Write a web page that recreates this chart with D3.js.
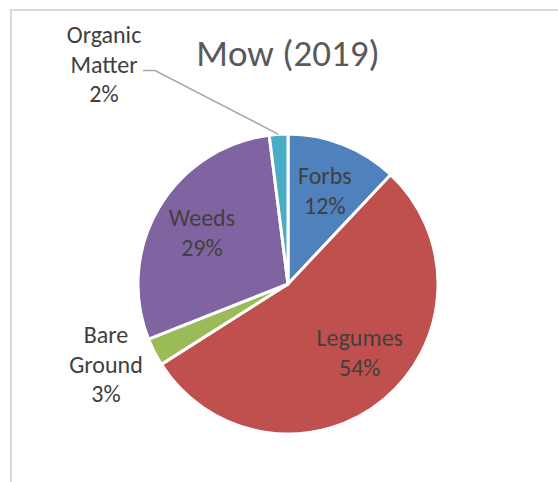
<!DOCTYPE html>
<html>
<head>
<meta charset="utf-8">
<script src="https://cdn.jsdelivr.net/npm/d3@7"></script>
<style>
  html, body { margin: 0; padding: 0; background: #fff; }
  svg { display: block; }
</style>
</head>
<body>
<svg id="chart" width="558" height="482"></svg>
<script>
// Ground cover composition, mowed plots, 2019
const categories = ["Forbs", "Legumes", "Bare Ground", "Weeds", "Organic Matter"];
const values = [12, 54, 3, 29, 2];
const colors = ["#4F81BD", "#C0504D", "#9BBB59", "#8064A2", "#4BACC6"];
const title = "Mow (2019)";

const W = 558, H = 482;
const cx = 288, cy = 284, R = 150;
const FONT = "Calibri, Carlito, Lato, 'Open Sans', sans-serif";
const labelSize = 24, lineH = 29.5;

const svg = d3.select("#chart");

// chart frame (left and top edges visible)
svg.append("path")
  .attr("d", `M11,${H} L11,10 L${W},10`)
  .attr("fill", "none")
  .attr("stroke", "#d9d9d9")
  .attr("stroke-width", 2);

svg.append("text")
  .attr("x", cx)
  .attr("y", 66)
  .attr("text-anchor", "middle")
  .attr("font-family", FONT)
  .attr("font-size", 37)
  .attr("fill", "#595959")
  .text(title);

const data = categories.map((c, i) => ({ name: c, value: values[i], color: colors[i] }));
const pie = d3.pie().value(d => d.value).sort(null);
const arcs = pie(data);
const arc = d3.arc().innerRadius(0).outerRadius(R);
const labelArc = d3.arc().innerRadius(100).outerRadius(100);

const g = svg.append("g").attr("transform", `translate(${cx},${cy})`);

g.selectAll("path.slice")
  .data(arcs)
  .join("path")
  .attr("class", "slice")
  .attr("d", arc)
  .attr("fill", d => d.data.color)
  .attr("stroke", "#fff")
  .attr("stroke-width", 3)
  .attr("stroke-linejoin", "round");

const pct = d => Math.round(d.value / d3.sum(values) * 100) + "%";

// label placement: inside labels sit on the label arc (with a small nudge),
// the two thin slices get labels outside the pie on the left
const outside = {
  "Organic Matter": { x: 104 - cx, y: 43 - cy, leader: true },
  "Bare Ground": { x: 106 - cx, y: 343 - cy }
};
const nudge = { "Legumes": [8, -8] };

function drawLines(sel, lines, x, firstBaseline) {
  const t = sel.append("text")
    .attr("text-anchor", "middle")
    .attr("font-family", FONT)
    .attr("font-size", labelSize)
    .attr("fill", "#404040");
  lines.forEach((ln, i) => {
    t.append("tspan").attr("x", x).attr("y", firstBaseline + i * lineH).text(ln);
  });
}

arcs.forEach(a => {
  const name = a.data.name;
  const words = name.split(" ");
  const lines = [...words, pct(a.data)];
  if (outside[name]) {
    const o = outside[name];
    drawLines(g, lines, o.x, o.y);
    if (o.leader) {
      const mid = (a.startAngle + a.endAngle) / 2;
      const ex = Math.sin(mid) * R, ey = -Math.cos(mid) * R;
      const sx = o.x + 39, sy = o.y + lineH - 2;
      g.append("path")
        .attr("d", `M${sx},${sy} L${sx + 12},${sy} L${ex},${ey}`)
        .attr("fill", "none")
        .attr("stroke", "#a6a6a6")
        .attr("stroke-width", 1.5);
    }
  } else {
    const [px, py] = labelArc.centroid(a);
    const [nx, ny] = nudge[name] || [0, 0];
    const x = px + nx, y = py + ny;
    const first = y + 8 - (lines.length - 1) * lineH / 2;
    drawLines(g, lines, x, first);
  }
});
</script>
</body>
</html>
